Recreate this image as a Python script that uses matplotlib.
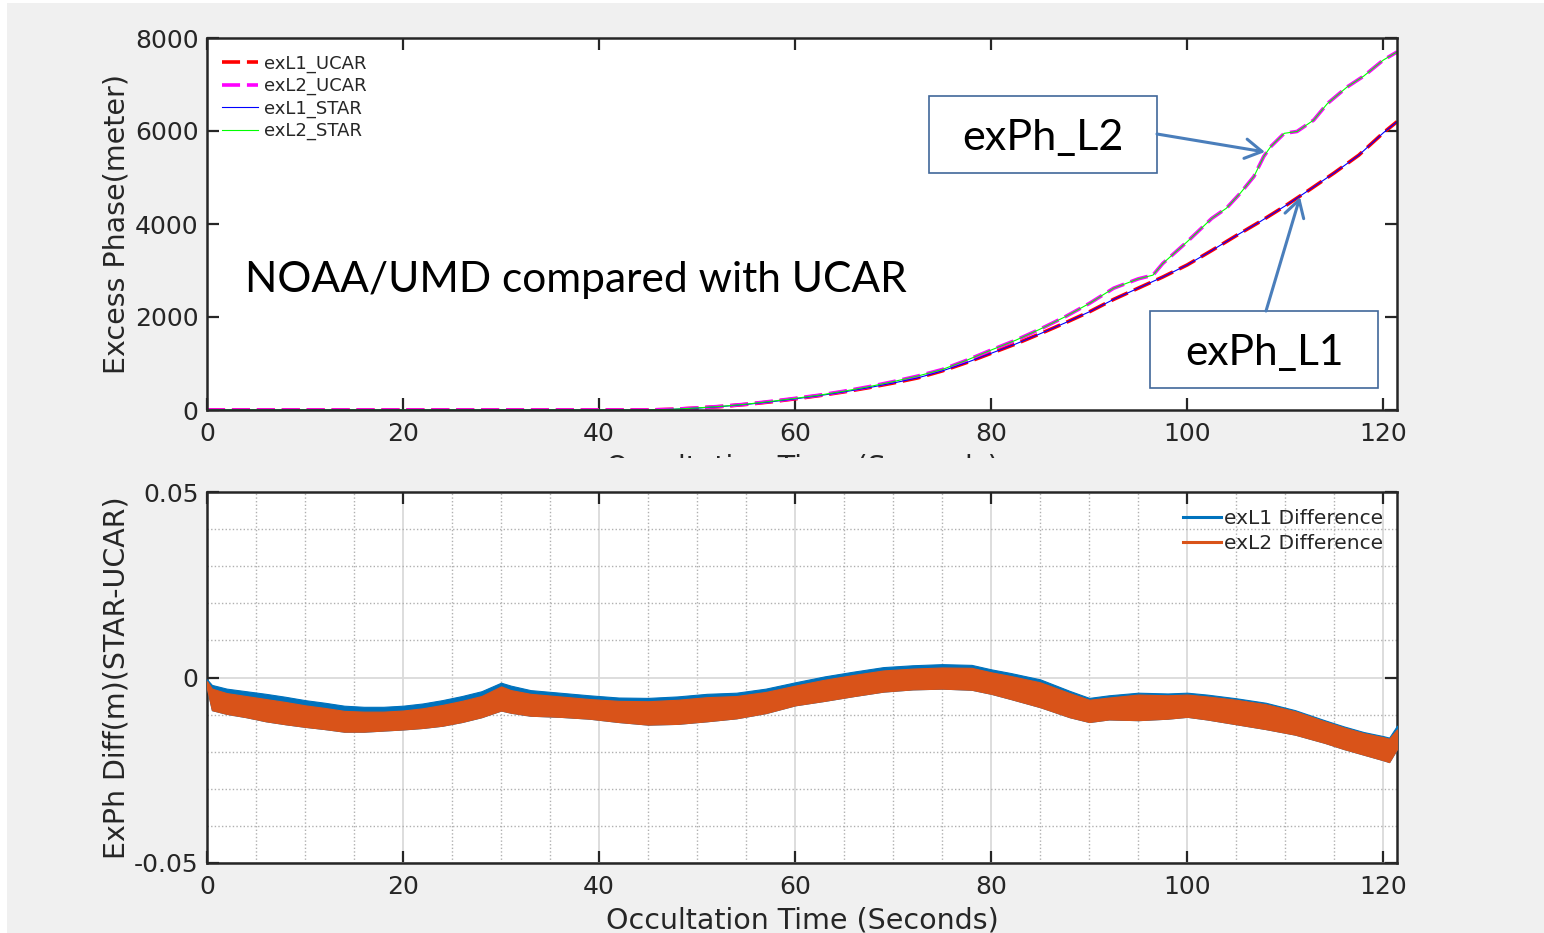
import matplotlib
matplotlib.use('Agg')
import matplotlib.pyplot as plt
from matplotlib.patches import Rectangle, FancyArrowPatch
from matplotlib.lines import Line2D
from matplotlib.ticker import MultipleLocator

# ---------------- data ----------------
# top panel: excess phase (m)
t_L1 = [0, 10, 20, 30, 40, 45, 47.5, 50, 52.5, 55, 57.5, 60, 62.5, 65, 67.5, 70,
        72.5, 75, 77.5, 80, 82.5, 85, 87.5, 90, 92.5, 95, 97.5, 100, 102.5, 105,
        107.5, 110, 112.5, 115, 117.5, 120, 121.4]
exL1 = [0, 0, 0, 0, 0, 0, 15, 40, 75, 120, 175, 240, 310, 390, 480, 580,
        690, 840, 1020, 1220, 1420, 1640, 1870, 2110, 2380, 2620, 2860, 3120, 3430, 3750,
        4060, 4390, 4740, 5100, 5480, 5960, 6200]
t_L2 = [0, 10, 20, 30, 40, 45, 47.5, 50, 52.5, 55, 57.5, 60, 62.5, 65, 67.5, 70,
        72.5, 75, 77.5, 80, 82.5, 85, 87.5, 90, 92.5, 95, 96.5, 97.5, 100, 102.5,
        104, 105.4, 106.8, 107.8, 108.5, 109.9, 111.2, 112.9, 114.3, 116.3, 118, 120, 121.4]
exL2 = [0, 0, 0, 0, 0, 0, 15, 45, 80, 125, 185, 250, 320, 405, 500, 610,
        730, 870, 1070, 1290, 1500, 1740, 2000, 2290, 2620, 2820, 2900, 3150, 3620, 4120,
        4340, 4660, 5020, 5450, 5660, 5950, 5990, 6235, 6590, 6945, 7180, 7525, 7700]

# bottom panel: difference band envelopes (m)
t_diff = [0, 0.5, 2, 4, 6, 8, 10, 12, 14, 16, 18, 20, 22, 24, 26, 28, 30, 31, 33, 36,
          39, 42, 45, 48, 51, 54, 57, 60, 63, 66, 69, 72, 75, 78, 80, 82, 85, 88, 90,
          92, 95, 98, 100, 102, 105, 108, 111, 114, 116, 118, 120, 120.6, 121.4]
L1_top = [-0.0005, -0.0020, -0.0030, -0.0037, -0.0044, -0.0052, -0.0061, -0.0068, -0.0076,
          -0.0079, -0.0079, -0.0076, -0.0070, -0.0061, -0.0050, -0.0037, -0.0014, -0.0022,
          -0.0034, -0.0041, -0.0048, -0.0054, -0.0055, -0.0051, -0.0044, -0.0041, -0.0030,
          -0.0013, 0.0003, 0.0016, 0.0028, 0.0033, 0.0036, 0.0034, 0.0022, 0.0012, -0.0005,
          -0.0036, -0.0055, -0.0048, -0.0041, -0.0043, -0.0041, -0.0046, -0.0056, -0.0068,
          -0.0088, -0.0115, -0.0132, -0.0147, -0.0158, -0.0162, -0.0130]
L2_top = [-0.0010, -0.0030, -0.0042, -0.0050, -0.0058, -0.0066, -0.0075, -0.0082, -0.0090,
          -0.0092, -0.0092, -0.0089, -0.0083, -0.0074, -0.0063, -0.0050, -0.0024, -0.0034,
          -0.0044, -0.0051, -0.0058, -0.0063, -0.0064, -0.0060, -0.0053, -0.0050, -0.0039,
          -0.0022, -0.0006, 0.0007, 0.0019, 0.0024, 0.0027, 0.0026, 0.0014, 0.0004, -0.0013,
          -0.0042, -0.0060, -0.0054, -0.0046, -0.0048, -0.0046, -0.0051, -0.0060, -0.0072,
          -0.0091, -0.0118, -0.0135, -0.0150, -0.0161, -0.0165, -0.0140]
L2_bot = [-0.0030, -0.0088, -0.0098, -0.0107, -0.0118, -0.0126, -0.0133, -0.0139, -0.0146,
          -0.0146, -0.0143, -0.0140, -0.0136, -0.0130, -0.0120, -0.0107, -0.0089, -0.0095,
          -0.0103, -0.0106, -0.0111, -0.0120, -0.0127, -0.0125, -0.0118, -0.0110, -0.0096,
          -0.0075, -0.0063, -0.0050, -0.0038, -0.0032, -0.0030, -0.0033, -0.0044, -0.0058,
          -0.0080, -0.0107, -0.0120, -0.0113, -0.0115, -0.0111, -0.0106, -0.0113, -0.0126,
          -0.0139, -0.0154, -0.0176, -0.0193, -0.0208, -0.0223, -0.0228, -0.0193]

x_ticks = [0, 20, 40, 60, 80, 100, 120]
y1_ticks = [0, 2000, 4000, 6000, 8000]
y2_ticks = [-0.05, 0, 0.05]
y2_ticklabels = ['-0.05', '0', '0.05']

# ---------------- figure ----------------
W, H, DPI = 1544, 933, 100
BG = '#f0f0f0'
DARK = '#262626'
fig = plt.figure(figsize=(W / DPI, H / DPI), dpi=DPI, facecolor=BG)


def fx(px):
    return px / W


def fy(py):
    return 1 - py / H


# white strips at left/top edge
fig.add_artist(Rectangle((0, 0), fx(7), 1, transform=fig.transFigure,
                         facecolor='white', edgecolor='none', zorder=-5))
fig.add_artist(Rectangle((0, fy(3)), 1, 3 / H, transform=fig.transFigure,
                         facecolor='white', edgecolor='none', zorder=-5))

ax1 = fig.add_axes([fx(207), fy(410), fx(1397) - fx(207), fy(38) - fy(410)])
ax2 = fig.add_axes([fx(207), fy(863), fx(1397) - fx(207), fy(492) - fy(863)])

for ax in (ax1, ax2):
    ax.set_facecolor('white')
    for s in ax.spines.values():
        s.set_linewidth(1.8)
        s.set_color(DARK)
    ax.tick_params(which='major', direction='in', length=8.5, width=1.6,
                   top=True, right=True, labelsize=18, colors=DARK)
    ax.tick_params(axis='x', pad=8.5)
    ax.tick_params(axis='y', pad=6)
    ax.set_xlim(0, 121.4)
    ax.set_xticks(x_ticks)

# ---- top panel ----
ax1.plot(t_L1, exL1, color='red', lw=2.6, ls=(0, (5, 1.9)), label='exL1_UCAR')
ax1.plot(t_L2, exL2, color='magenta', lw=2.6, ls=(0, (5, 1.9)), label='exL2_UCAR')
ax1.plot(t_L1, exL1, color='blue', lw=0.8, label='exL1_STAR')
ax1.plot(t_L2, exL2, color='lime', lw=0.8, label='exL2_STAR')
ax1.set_ylim(0, 8000)
ax1.set_yticks(y1_ticks)
ax1.set_ylabel('Excess Phase(meter)', fontsize=20.5, color=DARK)
ax1.yaxis.set_label_coords(-0.064, 0.5)
ax1.set_xlabel('Occultation Time (Seconds)', fontsize=20.5, color=DARK)
ax1.xaxis.set_label_coords(0.5, -0.116)
leg1 = ax1.legend(loc='upper left', bbox_to_anchor=(0.0126, 0.955), frameon=False,
                  fontsize=13, handlelength=2.0, handletextpad=0.3, labelspacing=0.23,
                  borderpad=0, borderaxespad=0)
for tx in leg1.get_texts():
    tx.set_color(DARK)

# ---- bottom panel ----
C1, C2 = '#0072BD', '#D95319'
ax2.fill_between(t_diff, L2_bot, L1_top, color=C1, lw=0.8, edgecolor=C1, zorder=3)
ax2.fill_between(t_diff, L2_bot, L2_top, color=C2, lw=0.8, edgecolor=C2, zorder=4)
ax2.set_ylim(-0.05, 0.05)
ax2.set_yticks(y2_ticks)
ax2.set_yticklabels(y2_ticklabels)
ax2.xaxis.set_minor_locator(MultipleLocator(5))
ax2.yaxis.set_minor_locator(MultipleLocator(0.01))
ax2.tick_params(which='minor', length=0)
ax2.set_axisbelow(True)
ax2.grid(which='major', color='#dadada', lw=1.3, ls='-')
ax2.grid(which='minor', color='#b0b0b0', lw=1.0, ls=(0, (1, 1.6)))
ax2.set_ylabel('ExPh Diff(m)(STAR-UCAR)', fontsize=20.5, color=DARK)
ax2.yaxis.set_label_coords(-0.064, 0.5)
ax2.set_xlabel('Occultation Time (Seconds)', fontsize=20.5, color=DARK)
ax2.xaxis.set_label_coords(0.5, -0.118)
hnd = [Line2D([], [], color=C1, lw=2.2), Line2D([], [], color=C2, lw=2.2)]
leg2 = ax2.legend(hnd, ['exL1 Difference', 'exL2 Difference'], loc='upper right',
                  bbox_to_anchor=(0.9882, 0.953), frameon=False, fontsize=14.5,
                  handlelength=1.9, handletextpad=0.15, labelspacing=0.27,
                  borderpad=0, borderaxespad=0)
for tx in leg2.get_texts():
    tx.set_color(DARK)

# cover for the clipped top x-label (hidden in the original)
fig.add_artist(Rectangle((fx(300), fy(488)), fx(1300) - fx(300), 30 / H,
                         transform=fig.transFigure, facecolor=BG, edgecolor='none', zorder=6))

# ---------------- slide annotations ----------------
BOXC = '#41679a'
ARRC = '#4A7EBB'
for (x0, y0, x1, y1) in [(929, 96, 1157, 173), (1150, 311, 1378, 388)]:
    fig.add_artist(Rectangle((fx(x0), fy(y1)), fx(x1) - fx(x0), (y1 - y0) / H,
                             transform=fig.transFigure, facecolor='white',
                             edgecolor=BOXC, lw=1.2, zorder=7))
for (a, b) in [((1157, 134), (1265, 152)), ((1266, 311), (1300, 197))]:
    fig.add_artist(FancyArrowPatch((fx(a[0]), fy(a[1])), (fx(b[0]), fy(b[1])),
                                   transform=fig.transFigure,
                                   arrowstyle='->,head_length=12,head_width=7',
                                   mutation_scale=1, color=ARRC, lw=2.2,
                                   shrinkA=0, shrinkB=0, zorder=8))

renderer = fig.canvas.get_renderer()


def fit_text(txt, x_left, x_right, baseline, fam='Lato'):
    t = fig.text(fx((x_left + x_right) / 2), fy(baseline), txt, ha='center',
                 va='baseline', fontsize=30, family=fam, color='black', zorder=9)
    w = t.get_window_extent(renderer).width
    t.set_fontsize(30 * (x_right - x_left) / w)
    return t


fit_text('exPh_L2', 962, 1123, 150)
fit_text('exPh_L1', 1185, 1344, 365)
fit_text('NOAA/UMD compared with UCAR', 245, 907, 292)

fig.savefig('out.png', dpi=DPI, facecolor=BG)
